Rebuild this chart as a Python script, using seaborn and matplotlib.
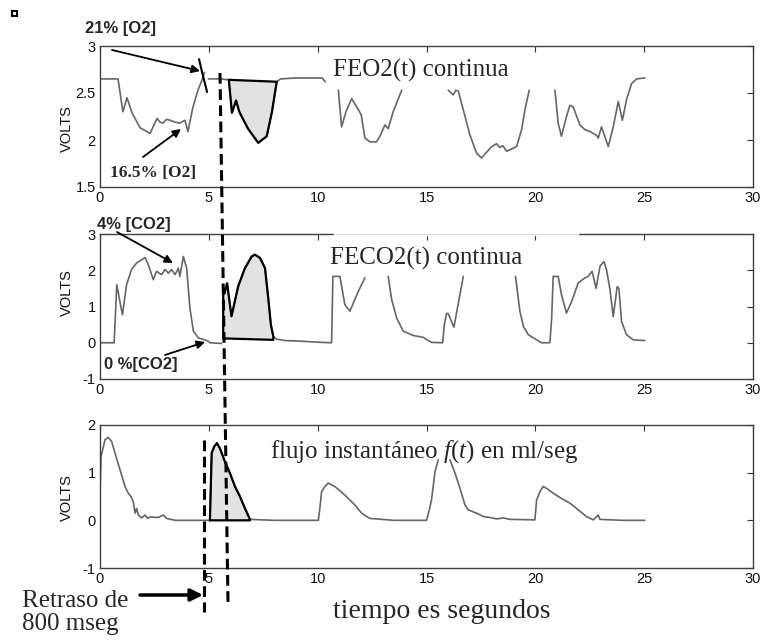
import numpy as np
import pandas as pd
import matplotlib
matplotlib.use("Agg")
import matplotlib.pyplot as plt
import seaborn as sns
from matplotlib.lines import Line2D
from matplotlib.patches import Rectangle, FancyArrowPatch
from matplotlib.ticker import FormatStrFormatter

sns.set_theme(style="white")
plt.rcParams['font.family'] = ['Liberation Sans', 'DejaVu Sans']
plt.rcParams['mathtext.fontset'] = 'custom'
plt.rcParams['mathtext.it'] = 'Liberation Serif:italic'
plt.rcParams['mathtext.rm'] = 'Liberation Serif'

# ---------------- FEO2(t): expired O2 signal (volts) ----------------
o2_t1 = [0.0, 0.83, 1.05, 1.24, 1.47, 1.84, 2.30, 2.62, 2.76, 2.90, 3.06, 3.22, 3.45, 3.67, 3.90, 4.04, 4.27, 4.50, 4.69, 4.80]
o2_v1 = [2.65, 2.65, 2.30, 2.45, 2.29, 2.13, 2.07, 2.23, 2.19, 2.18, 2.22, 2.21, 2.19, 2.18, 2.21, 2.09, 2.35, 2.53, 2.64, 2.72]
o2_t2 = [4.98, 5.50, 5.92, 6.06, 6.25, 6.40, 6.80, 7.27, 7.66, 7.90, 8.12, 8.30, 9.00, 9.50, 10.00, 10.20, 10.35]
o2_v2 = [2.65, 2.65, 2.64, 2.29, 2.42, 2.30, 2.12, 1.97, 2.04, 2.30, 2.62, 2.65, 2.66, 2.66, 2.66, 2.66, 2.62]
o2_t3 = [10.95, 11.10, 11.30, 11.56, 11.80, 12.00, 12.17, 12.40, 12.70, 12.86, 13.09, 13.24, 13.47, 13.86]
o2_v3 = [2.53, 2.14, 2.30, 2.44, 2.35, 2.27, 2.02, 1.98, 1.98, 2.04, 2.16, 2.12, 2.30, 2.53]
o2_t4 = [16.00, 16.23, 16.35, 16.46, 16.69, 17.00, 17.30, 17.53, 17.84, 17.99, 18.22, 18.37, 18.50, 18.68, 19.14, 19.37, 19.52, 19.72]
o2_v4 = [2.53, 2.48, 2.53, 2.52, 2.32, 2.05, 1.86, 1.81, 1.89, 1.93, 1.96, 1.92, 1.94, 1.88, 1.93, 2.11, 2.32, 2.53]
o2_t5 = [20.90, 21.05, 21.20, 21.43, 21.59, 21.74, 22.05, 22.28, 22.51, 22.81, 22.89, 23.04, 23.10, 23.35, 23.58, 23.81, 24.00, 24.19, 24.42, 24.65, 25.03]
o2_v5 = [2.53, 2.18, 2.04, 2.25, 2.37, 2.35, 2.16, 2.11, 2.09, 2.05, 2.02, 2.14, 2.10, 1.93, 2.14, 2.41, 2.21, 2.43, 2.60, 2.65, 2.66]
o2_mark_t = [4.55, 4.69, 4.78, 4.92]
o2_mark_v = [2.86, 2.72, 2.64, 2.51]
o2_area = (5.92, 8.12)

# ---------------- FECO2(t): expired CO2 signal (volts) ----------------
co2_t1 = [0.0, 0.65, 0.77, 1.03, 1.22, 1.45, 1.68, 2.07, 2.22, 2.45, 2.60, 2.83, 2.99, 3.14, 3.29, 3.45, 3.60, 3.67, 3.83, 3.98, 4.13, 4.29, 4.52, 4.82, 4.97, 5.05, 5.59]
co2_v1 = [0.0, 0.0, 1.60, 0.77, 1.60, 2.02, 2.20, 2.35, 2.15, 1.74, 1.97, 1.88, 2.02, 1.92, 2.02, 1.88, 2.06, 1.83, 2.38, 2.06, 0.96, 0.32, 0.13, 0.08, 0.04, 0.0, -0.02]
co2_t2 = [5.66, 5.72, 5.84, 6.04, 6.35, 6.66, 6.97, 7.12, 7.35, 7.58, 7.73, 7.85, 7.96, 8.10, 8.50, 9.00, 9.60, 10.20, 10.64, 10.70, 11.02, 11.25, 11.48, 11.87, 12.17]
co2_v2 = [1.50, 1.36, 1.64, 0.73, 1.56, 2.06, 2.38, 2.43, 2.34, 2.06, 1.23, 0.50, 0.18, 0.10, 0.06, 0.05, 0.03, 0.01, 0.0, 1.83, 1.83, 1.05, 0.87, 1.42, 1.79]
co2_t3 = [13.24, 13.40, 13.63, 13.93, 14.39, 14.85, 15.00, 15.23, 15.74, 15.82, 15.92, 16.00, 16.26, 16.69]
co2_v3 = [1.83, 1.19, 0.68, 0.32, 0.20, 0.15, 0.09, 0.01, 0.0, 0.50, 0.81, 0.80, 0.43, 1.83]
co2_t4 = [19.09, 19.29, 19.45, 19.68, 20.06, 20.29, 20.67, 20.75, 20.82, 21.05, 21.20, 21.43, 21.67, 21.97, 22.28, 22.43, 22.61, 22.79, 22.97, 23.15, 23.27, 23.43, 23.58, 23.76, 23.84, 23.96, 24.19, 24.50, 25.03]
co2_v4 = [1.83, 0.87, 0.45, 0.22, 0.08, 0.0, 0.0, 0.68, 1.83, 1.83, 1.33, 0.82, 1.14, 1.65, 1.79, 1.83, 1.97, 1.50, 2.11, 2.24, 2.02, 1.46, 0.72, 1.55, 1.50, 0.59, 0.22, 0.08, 0.06]
co2_area = (5.66, 7.96)
co2_floor = (0.08, 0.12)

# ---------------- f(t): instantaneous flow (volts) ----------------
flow_t1 = [0.0, 0.05, 0.23, 0.38, 0.54, 0.69, 0.92, 1.15, 1.30, 1.42, 1.53, 1.61, 1.68, 1.76, 1.91, 2.07, 2.19, 2.30, 2.68, 2.91, 3.06, 3.45,
           4.98, 5.05, 5.13, 5.25, 5.37, 5.51, 5.74, 5.97, 6.20, 6.43, 6.66, 6.89, 8.00, 9.00, 10.03, 10.10, 10.18, 10.33, 10.49, 10.79,
           11.25, 11.71, 12.02, 12.25, 12.40, 13.50, 15.00, 15.13, 15.23, 15.39, 15.54]
flow_v1 = [0.60, 1.34, 1.69, 1.74, 1.65, 1.41, 1.06, 0.71, 0.57, 0.50, 0.39, 0.15, 0.25, 0.11, 0.05, 0.11, 0.04, 0.07, 0.06, 0.11, 0.04, 0.0,
           0.0, 0.0, 1.41, 1.55, 1.62, 1.51, 1.23, 0.99, 0.71, 0.50, 0.25, 0.02, 0.0, 0.0, 0.0, 0.25, 0.60, 0.71, 0.78, 0.71,
           0.53, 0.32, 0.15, 0.08, 0.04, 0.0, 0.0, 0.22, 0.43, 1.02, 1.27]
flow_t2 = [16.08, 16.31, 16.54, 16.77, 16.92, 17.30, 17.61, 17.91, 18.22, 18.53, 18.84, 19.98, 20.06, 20.21, 20.36, 20.52, 20.82, 21.20,
           21.59, 21.97, 22.35, 22.66, 22.89, 22.97, 24.00, 25.03]
flow_v2 = [1.27, 0.99, 0.67, 0.32, 0.22, 0.15, 0.08, 0.06, 0.03, 0.05, 0.02, 0.01, 0.43, 0.60, 0.71, 0.67, 0.57, 0.46,
           0.36, 0.22, 0.08, 0.01, 0.11, 0.02, 0.0, 0.0]
flow_area = (5.05, 6.89)
flow_base = (0.0, 0.0)

x_ticks = [0, 5, 10, 15, 20, 25, 30]

W, H = 762, 643
fig = plt.figure(figsize=(W / 100, H / 100), dpi=100)


def fx(px):
    return px / W


def fy(py):
    return 1 - py / H


def panel(top, bottom):
    ax = fig.add_axes([fx(100), fy(bottom), (753 - 100) / W, (bottom - top) / H])
    ax.set_facecolor("none")
    return ax


def segments_frame(segs):
    rows = []
    for k, (t, v) in enumerate(segs):
        for a, b in zip(t, v):
            rows.append((k, a, b))
    return pd.DataFrame(rows, columns=["seg", "t", "v"])


def draw_signal(ax, segs, area, lid, ylim, yticks, label_y):
    df = segments_frame(segs)
    sns.lineplot(data=df, x="t", y="v", units="seg", estimator=None, sort=False,
                 color="#666666", lw=1.2, ax=ax, legend=False)
    # shaded, black-outlined breath
    t0, t1 = area
    sub = df[(df.t >= t0) & (df.t <= t1)]
    px = np.r_[sub.t.values, t1, t0, sub.t.values[0]]
    py = np.r_[sub.v.values, lid[1], lid[0], sub.v.values[0]]
    ax.fill(px, py, color="#e2e2e2", lw=0, zorder=1)
    ax.plot(px, py, color="black", lw=1.6, zorder=3)
    ax.set_xlim(0, 30)
    ax.set_ylim(*ylim)
    ax.set_xticks(x_ticks)
    ax.set_yticks(yticks)
    ax.yaxis.set_major_formatter(FormatStrFormatter("%g"))
    ax.set_xlabel("")
    ax.set_ylabel("VOLTS", fontsize=10.5, color="#111111")
    ax.yaxis.set_label_coords(-0.040, label_y)
    ax.tick_params(direction="in", top=True, right=True, length=4, width=0.8,
                   labelsize=10.5, pad=3, colors="#333333", labelcolor="#111111")
    for s in ax.spines.values():
        s.set_color("#404040")
        s.set_linewidth(1.0)


ax1 = panel(46, 187)
draw_signal(ax1, [(o2_t1, o2_v1), (o2_t2, o2_v2), (o2_t3, o2_v3), (o2_t4, o2_v4), (o2_t5, o2_v5)],
            o2_area, (2.64, 2.62), (1.5, 3), [1.5, 2, 2.5, 3], 0.415)
ax1.plot(o2_mark_t, o2_mark_v, color="black", lw=1.5, zorder=4)

ax2 = panel(234, 379)
draw_signal(ax2, [(co2_t1, co2_v1), (co2_t2, co2_v2), (co2_t3, co2_v3), (co2_t4, co2_v4)],
            co2_area, co2_floor[::-1], (-1, 3), [-1, 0, 1, 2, 3], 0.597)

ax3 = panel(425, 568)
draw_signal(ax3, [(flow_t1, flow_v1), (flow_t2, flow_v2)],
            flow_area, flow_base, (-1, 2), [-1, 0, 1, 2], 0.49)

# the FECO2 title box hides part of the middle frame's top edge
fig.add_artist(Line2D([fx(335), fx(577)], [fy(234), fy(234)], transform=fig.transFigure,
                      color="white", lw=2.5, zorder=5))
fig.add_artist(Line2D([fx(335), fx(577)], [fy(234), fy(234)], transform=fig.transFigure,
                      color="#dddddd", lw=0.8, zorder=6))

# panel titles
serif = ["Liberation Serif", "DejaVu Serif"]
fig.text(fx(333), fy(77), "FEO2(t) continua", family=serif, fontsize=18, va="baseline")
fig.text(fx(330), fy(265), "FECO2(t) continua", family=serif, fontsize=18, va="baseline")
fig.text(fx(270), fy(458), r"flujo instantáneo $\mathit{f(t)}$ en ml/seg", family=serif, fontsize=18, va="baseline")
fig.text(fx(333), fy(618), "tiempo es segundos", family=serif, fontsize=20, va="baseline")
fig.text(fx(22), fy(607), "Retraso de", family=serif, fontsize=18, va="baseline")
fig.text(fx(22), fy(630), "800 mseg", family=serif, fontsize=18, va="baseline")

# concentration callouts
fig.text(fx(85), fy(29), "21% [O2]", fontsize=12, fontweight="bold", va="center")
fig.text(fx(110), fy(173), "16.5% [O2]", family=serif, fontsize=12.5, fontweight="bold", va="center")
fig.text(fx(97), fy(225), "4% [CO2]", fontsize=12, fontweight="bold", va="center")
fig.text(fx(104), fy(365), "0 %[CO2]", fontsize=12, fontweight="bold", va="center")


def arrow(x0, y0, x1, y1, lw=1.3, ms=12):
    fig.add_artist(FancyArrowPatch((fx(x0), fy(y0)), (fx(x1), fy(y1)),
                                   transform=fig.transFigure, arrowstyle="-|>",
                                   color="black", lw=lw, mutation_scale=ms,
                                   shrinkA=0, shrinkB=0, zorder=11))


arrow(112, 50, 200, 71)
arrow(143, 157, 181, 129)
arrow(117, 232, 173, 263)
arrow(165, 355, 205, 342)
arrow(140, 595, 203, 595, lw=2.5, ms=18)

# time-alignment markers
fig.add_artist(Line2D([fx(220), fx(228)], [fy(73), fy(603)], transform=fig.transFigure,
                      color="black", lw=2.2, dashes=(3.5, 1.8), zorder=10))
fig.add_artist(Line2D([fx(204), fx(204)], [fy(440), fy(612)], transform=fig.transFigure,
                      color="black", lw=2.2, dashes=(3.5, 1.8), zorder=10))

fig.add_artist(Rectangle((fx(12), fy(16)), 5 / W, 5 / H, fill=False, lw=1.5,
                         ec="black", transform=fig.transFigure))

fig.savefig("out.png", dpi=100, facecolor="white")
